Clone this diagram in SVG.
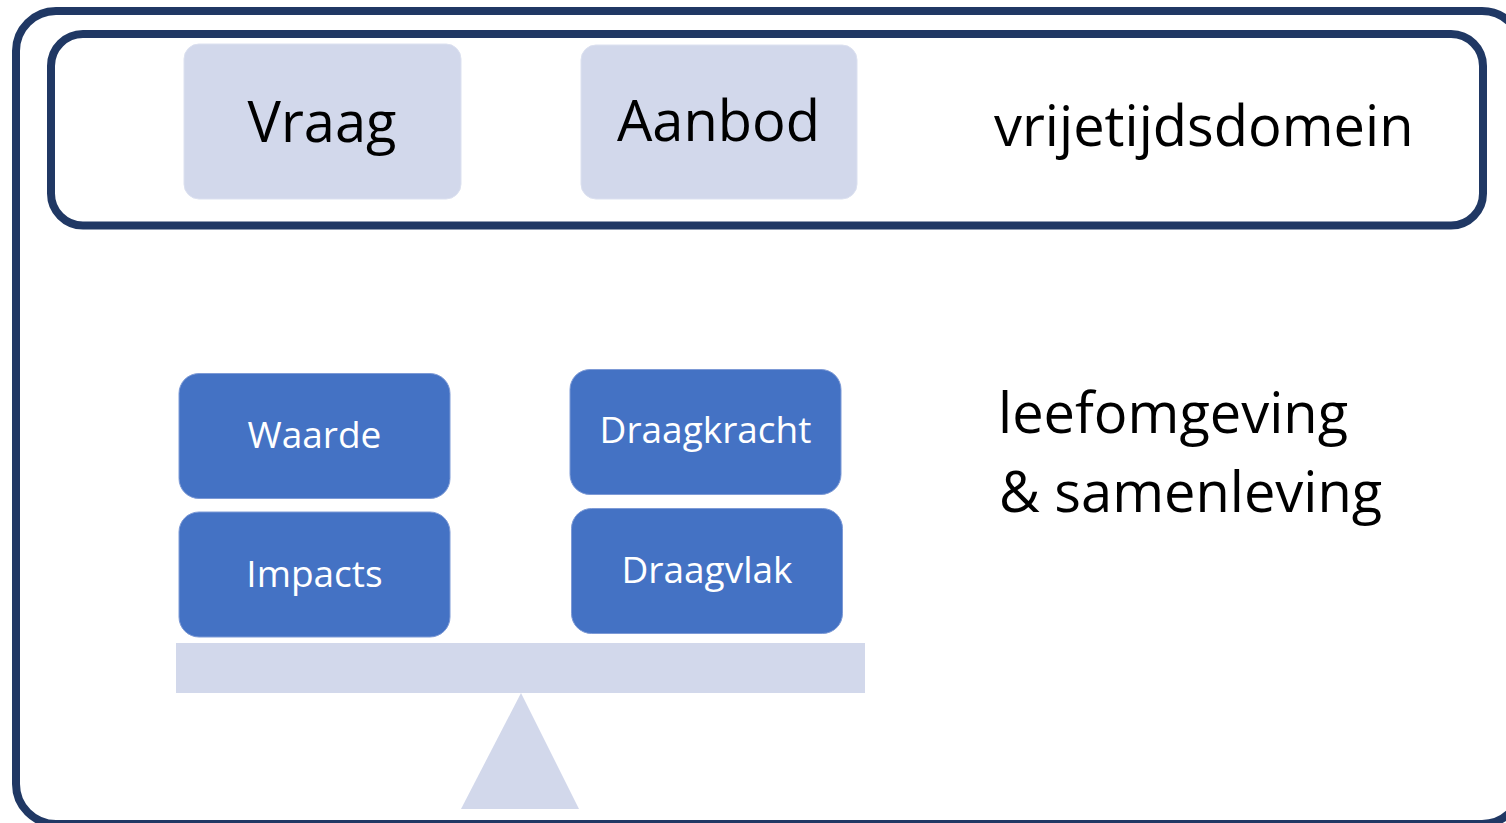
<svg xmlns="http://www.w3.org/2000/svg" width="1506" height="823" viewBox="0 0 1506 823">
<style>
.frame{fill:none;stroke:#203864;stroke-width:8}
.light{fill:#D2D8EB}
.lbox{fill:#D2D8EB;stroke:#DCE1F0;stroke-width:1}
.bbox{fill:#4472C4;stroke:#7D9AD6;stroke-width:1}
.big{font-family:"Open Sans","Noto Sans","Liberation Sans",sans-serif;font-size:56px;fill:#000}
.small{font-family:"Open Sans","Noto Sans","Liberation Sans",sans-serif;font-size:37px;fill:#fff;text-anchor:middle}
.mid{text-anchor:middle}
</style>
<rect width="1506" height="823" fill="#fff"/>
<g id="outer-frame"><rect class="frame" x="16" y="11" width="1506" height="813" rx="40"/></g>
<g id="vrijetijdsdomein">
<rect class="frame" x="51" y="34" width="1432" height="191.5" rx="32"/>
<text class="big" x="994" y="146">vrijetijdsdomein</text>
</g>
<g id="vraag">
<rect class="lbox" x="184" y="44" width="277" height="155" rx="15"/>
<text class="big mid" x="322" y="142">Vraag</text>
</g>
<g id="aanbod">
<rect class="lbox" x="581" y="45" width="276" height="154" rx="15"/>
<text class="big mid" x="718.5" y="141">Aanbod</text>
</g>
<g id="waarde">
<rect class="bbox" x="179" y="373.5" width="271" height="125" rx="20"/>
<text class="small" x="314.5" y="448">Waarde</text>
</g>
<g id="impacts">
<rect class="bbox" x="179" y="512" width="271" height="125" rx="20"/>
<text class="small" x="314.5" y="587">Impacts</text>
</g>
<g id="draagkracht">
<rect class="bbox" x="570" y="369.5" width="271" height="125" rx="20"/>
<text class="small" x="705.5" y="443">Draagkracht</text>
</g>
<g id="draagvlak">
<rect class="bbox" x="571.5" y="508.5" width="271" height="125" rx="20"/>
<text class="small" x="707" y="583">Draagvlak</text>
</g>
<g id="balance">
<rect class="light" x="176" y="643" width="689" height="50"/>
<polygon class="light" points="521,693 461,809 579,809"/>
</g>
<g id="leefomgeving">
<text class="big" x="998" y="433">leefomgeving</text>
<text class="big" x="999" y="512">&amp; samenleving</text>
</g>
<g id="connectors"></g>
</svg>
